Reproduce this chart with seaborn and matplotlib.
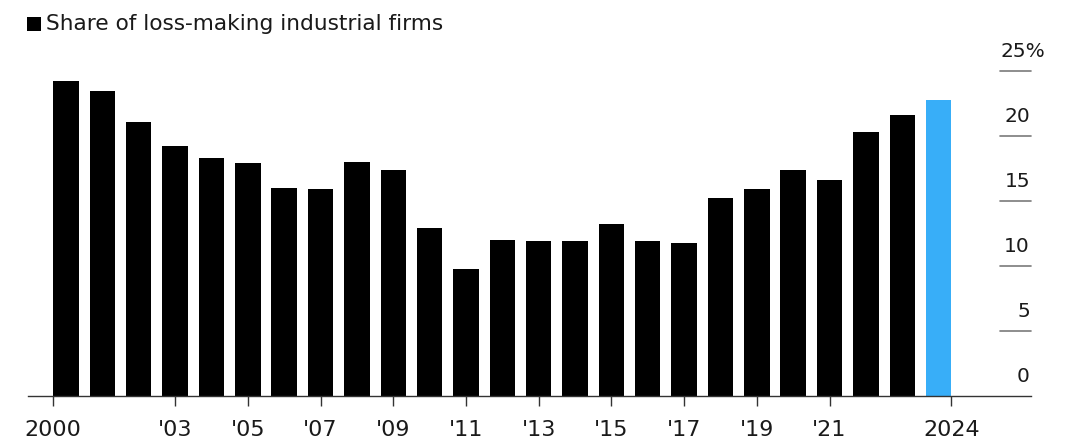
import matplotlib
matplotlib.use("Agg")
import matplotlib.pyplot as plt
import seaborn as sns
import pandas as pd
from matplotlib.patches import Rectangle

years = [str(y) for y in range(2000, 2025)]
share = [24.2, 23.5, 21.1, 19.2, 18.3, 17.9, 16.0, 15.9, 18.0, 17.4,
         12.9, 9.8, 12.0, 11.9, 11.9, 13.2, 11.9, 11.8, 15.2, 15.9,
         17.4, 16.6, 20.3, 21.6, 22.8]
bar_colors = ["#000000"] * 24 + ["#38AEF8"]
xtick_labels = ["2000", "'03", "'05", "'07", "'09", "'11", "'13", "'15", "'17", "'19", "'21", "2024"]
ytick_values = [0, 5, 10, 15, 20, 25]
ytick_labels = ["0", "5", "10", "15", "20", "25%"]
legend_label = "Share of loss-making industrial firms"

W, H = 1069, 442
sns.set_theme(style="white")
plt.rcParams['font.family'] = ['DejaVu Sans']

fig = plt.figure(figsize=(W / 100, H / 100), dpi=100)
# axes in pixel coordinates
left_px, right_px = 28, 1031
base_px, top_px = 396, 58
ax = fig.add_axes([left_px / W, (H - base_px) / H, (right_px - left_px) / W, (base_px - top_px) / H])

df = pd.DataFrame({"year": years, "share": share})
sns.barplot(data=df, x="year", y="share", hue="year", palette=bar_colors,
            width=0.7, linewidth=0, legend=False, ax=ax, saturation=1)

spacing = 36.36
c0 = 66.0
ax.set_xlim((left_px - c0) / spacing, (right_px - c0) / spacing)
ax.set_ylim(0, (base_px - top_px) / 13.0)

for s in ["left", "right", "top"]:
    ax.spines[s].set_visible(False)
ax.spines["bottom"].set_color("#333333")
ax.spines["bottom"].set_linewidth(1.0)

tick_pos = [-0.35] + [y - 2000 for y in range(2003, 2022, 2)] + [24.35]
ax.set_xticks(tick_pos)
ax.set_xticklabels(xtick_labels, fontsize=16, color="#1a1a1a")
ax.tick_params(axis="x", length=7, width=1, color="#333333", pad=10, bottom=True)
ax.set_yticks([])
ax.set_xlabel("")
ax.set_ylabel("")

# right-side value labels with short stubs
xaf_stub0 = (1000 - left_px) / (right_px - left_px)
for v, lab in zip(ytick_values, ytick_labels):
    if v > 0:
        ax.plot([xaf_stub0, 1.0], [v, v], transform=ax.get_yaxis_transform(),
                color="#7a7a7a", lw=1.2, clip_on=False)
    if lab.endswith("%"):
        ax.annotate(lab, xy=((1001 - left_px) / (right_px - left_px), v), xycoords=ax.get_yaxis_transform(),
                    xytext=(0, 14 * 0.72), textcoords="offset points", ha="left", va="baseline",
                    fontsize=14.5, color="#1a1a1a", annotation_clip=False)
    else:
        ax.annotate(lab, xy=((1030 - left_px) / (right_px - left_px), v), xycoords=ax.get_yaxis_transform(),
                    xytext=(0, 14 * 0.72), textcoords="offset points", ha="right", va="baseline",
                    fontsize=14.5, color="#1a1a1a", annotation_clip=False)

# legend
fig.patches.append(Rectangle((26.5 / W, (H - 30.5) / H), 14 / W, 13 / H, transform=fig.transFigure,
                             facecolor="black", edgecolor="none"))
fig.text(46 / W, (H - 30) / H, legend_label, fontsize=15.6, color="#1a1a1a", ha="left", va="baseline")

fig.savefig("out.png", dpi=100)
